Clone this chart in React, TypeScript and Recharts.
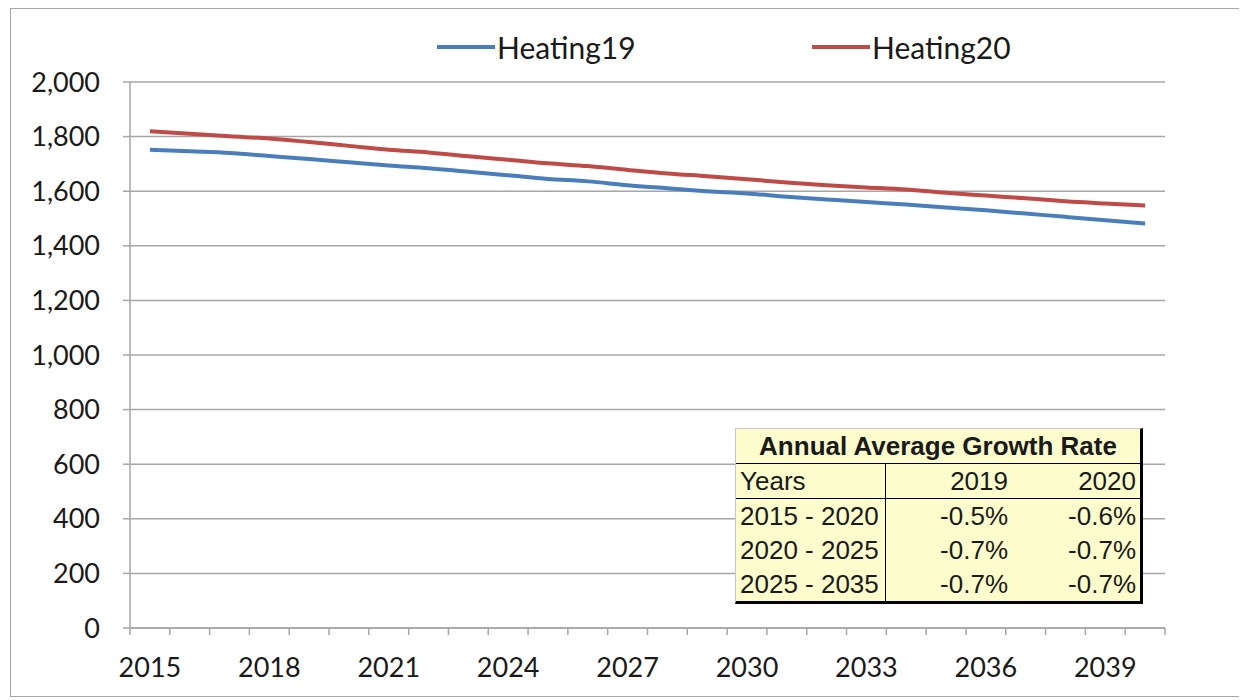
import { LineChart, Line, XAxis, YAxis, CartesianGrid } from "recharts";

const YEARS = [
  2015, 2016, 2017, 2018, 2019, 2020, 2021, 2022, 2023, 2024, 2025, 2026, 2027,
  2028, 2029, 2030, 2031, 2032, 2033, 2034, 2035, 2036, 2037, 2038, 2039, 2040,
];
const HEATING19 = [
  1752, 1746, 1740, 1729, 1718, 1706, 1694, 1684, 1671, 1658, 1645, 1636, 1622,
  1611, 1600, 1592, 1580, 1570, 1560, 1551, 1540, 1530, 1518, 1506, 1494, 1482,
];
const HEATING20 = [
  1820, 1810, 1801, 1793, 1780, 1766, 1752, 1742, 1728, 1715, 1702, 1692, 1678,
  1665, 1655, 1644, 1632, 1622, 1614, 1606, 1594, 1584, 1574, 1563, 1555, 1548,
];
const X_LABEL_YEARS = [2015, 2018, 2021, 2024, 2027, 2030, 2033, 2036, 2039];
const Y_TICKS = [0, 200, 400, 600, 800, 1000, 1200, 1400, 1600, 1800, 2000];

// growth-rate table
const TABLE_TITLE = "Annual Average Growth Rate";
const TABLE_HEADERS = ["Years", "2019", "2020"];
const GROWTH_PERIODS = ["2015 - 2020", "2020 - 2025", "2025 - 2035"];
const GROWTH_19 = ["-0.5%", "-0.7%", "-0.7%"];
const GROWTH_20 = ["-0.6%", "-0.7%", "-0.7%"];

const BLUE = "#4a7ebb";
const RED = "#be4b48";
const GRID = "#a6a6a6";
const TEXT = "#1a1a1a";
const TICK_FONT = "Lato, 'Open Sans', sans-serif";
const TABLE_FONT = "'Liberation Sans', Arial, sans-serif";
const PLOT_W = 1035;

const data = YEARS.map((year, i) => ({
  year,
  heating19: HEATING19[i],
  heating20: HEATING20[i],
}));

// tick marks sit between categories, labels in the middle (Excel style)
const boundaryTicks = [...YEARS.map((y) => y - 0.5), YEARS[YEARS.length - 1] + 0.5];

function YearTick(props: any) {
  const { x, y, payload, width } = props;
  const year = Math.round(payload.value + 0.5);
  if (!X_LABEL_YEARS.includes(year)) return null;
  const half = (width || PLOT_W) / (YEARS.length * 2);
  return (
    <text
      x={x + half}
      y={y}
      dy={40}
      textAnchor="middle"
      fill={TEXT}
      fontSize={27}
      fontFamily={TICK_FONT}
    >
      {year}
    </text>
  );
}

const cell = { padding: "0 4px", height: 34, lineHeight: "34px" };

export default function App() {
  return (
    <div style={{ position: "relative", width: 1233, height: 690 }}>
      <div
        style={{
          position: "absolute",
          left: 2,
          top: 0,
          width: 1230,
          height: 689,
          boxSizing: "border-box",
          border: "1px solid #a6a6a6",
        }}
      />
      <div style={{ position: "absolute", left: 2, top: 0 }}>
        <LineChart
          width={1230}
          height={689}
          data={data}
          margin={{ top: 74, right: 75, bottom: 29, left: 30 }}
        >
          <CartesianGrid vertical={false} stroke={GRID} strokeWidth={1.5} />
          <XAxis
            dataKey="year"
            type="number"
            domain={[YEARS[0] - 0.5, YEARS[YEARS.length - 1] + 0.5]}
            ticks={boundaryTicks}
            interval={0}
            height={40}
            tickSize={7}
            stroke={GRID}
            strokeWidth={1.5}
            tick={<YearTick />}
          />
          <YAxis
            domain={[0, 2000]}
            ticks={Y_TICKS}
            width={90}
            tickSize={7}
            tickMargin={23}
            stroke={GRID}
            strokeWidth={1.5}
            tick={{ fill: TEXT, fontSize: 27, fontFamily: TICK_FONT }}
            tickFormatter={(v) => Number(v).toLocaleString("en-US")}
          />
          <Line
            type="monotone"
            dataKey="heating19"
            name="Heating19"
            stroke={BLUE}
            strokeWidth={4}
            dot={false}
            isAnimationActive={false}
          />
          <Line
            type="monotone"
            dataKey="heating20"
            name="Heating20"
            stroke={RED}
            strokeWidth={4}
            dot={false}
            isAnimationActive={false}
          />
        </LineChart>
      </div>

      {/* legend */}
      {[
        { label: "Heating19", color: BLUE, left: 429 },
        { label: "Heating20", color: RED, left: 804 },
      ].map((item) => (
        <div
          key={item.label}
          style={{
            position: "absolute",
            left: item.left,
            top: 21,
            display: "flex",
            alignItems: "center",
            fontFamily: TICK_FONT,
            fontSize: 30,
            color: TEXT,
          }}
        >
          <span style={{ width: 58, height: 4, background: item.color, marginRight: 2 }} />
          {item.label}
        </div>
      ))}

      {/* growth table */}
      <div
        style={{
          position: "absolute",
          left: 727,
          top: 420,
          background: "#fdfccc",
          borderTop: "1px solid #c8c8c8",
          borderLeft: "1px solid #c8c8c8",
          borderRight: "3px solid #000",
          borderBottom: "3px solid #000",
          fontFamily: TABLE_FONT,
          fontSize: 26,
          color: TEXT,
        }}
      >
        <table style={{ borderCollapse: "collapse" }}>
          <tbody>
            <tr>
              <td
                colSpan={3}
                style={{ ...cell, textAlign: "center", fontWeight: "bold", borderBottom: "1px solid #000" }}
              >
                {TABLE_TITLE}
              </td>
            </tr>
            <tr style={{ borderBottom: "1px solid #000" }}>
              <td style={{ ...cell, width: 141, textAlign: "left", borderRight: "1px solid #000" }}>
                {TABLE_HEADERS[0]}
              </td>
              <td style={{ ...cell, width: 118, textAlign: "right" }}>{TABLE_HEADERS[1]}</td>
              <td style={{ ...cell, width: 120, textAlign: "right" }}>{TABLE_HEADERS[2]}</td>
            </tr>
            {GROWTH_PERIODS.map((p, i) => (
              <tr key={p}>
                <td style={{ ...cell, textAlign: "left", borderRight: "1px solid #000" }}>{p}</td>
                <td style={{ ...cell, textAlign: "right" }}>{GROWTH_19[i]}</td>
                <td style={{ ...cell, textAlign: "right" }}>{GROWTH_20[i]}</td>
              </tr>
            ))}
          </tbody>
        </table>
      </div>
    </div>
  );
}
